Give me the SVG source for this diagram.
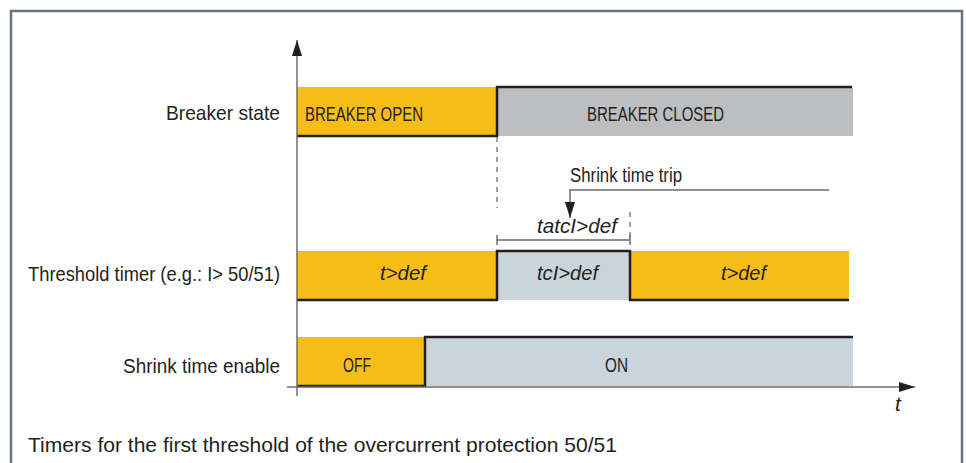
<svg xmlns="http://www.w3.org/2000/svg" width="966" height="463" viewBox="0 0 966 463">
<defs>
<style>
.lbl{font-family:"Liberation Sans",Arial,sans-serif;font-size:21px;fill:#231f20}
.in{font-family:"Liberation Sans",Arial,sans-serif;font-size:19.5px;fill:#231f20}
.it{font-family:"Liberation Sans",Arial,sans-serif;font-size:21px;font-style:italic;fill:#231f20}
.sig{fill:none;stroke:#231f20;stroke-width:2.5}
.ax{fill:none;stroke:#6d6e71;stroke-width:1.5}
.dash{fill:none;stroke:#6d6e71;stroke-width:1.3;stroke-dasharray:5 5}
.yel{fill:#f7bd17}
.gry{fill:#bdbec1}
.blu{fill:#c9d4db}
</style>
<marker id="ahL" viewBox="0 0 16 10" refX="16" refY="5" markerWidth="16" markerHeight="10" markerUnits="userSpaceOnUse" orient="auto">
<path d="M0,0 L16,5 L0,10 z" fill="#231f20"/>
</marker>
</defs>
<rect width="966" height="463" fill="#ffffff"/>
<rect x="11" y="11" width="951" height="500" fill="none" stroke="#5d7682" stroke-width="2.5"/>

<g id="breaker-state">
<text class="lbl" x="280" y="120" text-anchor="end" textLength="114" lengthAdjust="spacingAndGlyphs">Breaker state</text>
<rect class="yel" x="297" y="87" width="200" height="49"/>
<rect class="gry" x="497" y="87" width="356" height="49"/>
<path class="sig" d="M297,136 H497 V87 H852"/>
<text class="in" x="305" y="121" textLength="118" lengthAdjust="spacingAndGlyphs">BREAKER OPEN</text>
<text class="in" x="587" y="121" textLength="137" lengthAdjust="spacingAndGlyphs">BREAKER CLOSED</text>
</g>

<g id="threshold-timer">
<text class="lbl" x="280" y="281" text-anchor="end" textLength="252" lengthAdjust="spacingAndGlyphs">Threshold timer (e.g.: I&gt; 50/51)</text>
<rect class="yel" x="297" y="251" width="200" height="49"/>
<rect class="blu" x="497" y="251" width="133" height="49"/>
<rect class="yel" x="630" y="251" width="219" height="49"/>
<path class="sig" d="M297,300 H497 V251 H630 V300 H849"/>
<text class="it" x="380" y="280" textLength="46" lengthAdjust="spacingAndGlyphs">t&gt;def</text>
<text class="it" x="537" y="280" textLength="61" lengthAdjust="spacingAndGlyphs">tcI&gt;def</text>
<text class="it" x="721" y="280" textLength="45" lengthAdjust="spacingAndGlyphs">t&gt;def</text>
</g>

<g id="shrink-time-enable">
<text class="lbl" x="280" y="373" text-anchor="end" textLength="157" lengthAdjust="spacingAndGlyphs">Shrink time enable</text>
<rect class="yel" x="297" y="337" width="128" height="49"/>
<rect class="blu" x="425" y="337" width="428" height="49"/>
<path class="sig" d="M297,386 H425 V337 H853"/>
<text class="in" x="343" y="372" textLength="28" lengthAdjust="spacingAndGlyphs">OFF</text>
<text class="in" x="605" y="372" textLength="23" lengthAdjust="spacingAndGlyphs">ON</text>
</g>

<g id="shrink-time-trip">
<text class="in" x="570" y="182" font-size="18" textLength="112" lengthAdjust="spacingAndGlyphs">Shrink time trip</text>
</g>

<g id="tatcl-def">
<text class="it" x="537" y="233" textLength="80" lengthAdjust="spacingAndGlyphs">tatcI&gt;def</text>
</g>

<g id="axes">
<path class="ax" d="M297,396 V40" marker-end="url(#ahL)"/>
<path class="ax" d="M287,387 H915" marker-end="url(#ahL)"/>
<text class="it" x="895" y="411" font-size="19">t</text>
</g>

<g id="connectors">
<path class="dash" d="M497,137 V208"/>
<path class="dash" d="M630,212 V240"/>
<path fill="none" stroke="#6d6e71" stroke-width="1.5" d="M497,240 H630 M497,235 V245 M630,235 V245"/>
<path fill="none" stroke="#6d6e71" stroke-width="1.5" d="M829,190 H570 V218" marker-end="url(#ahL)"/>
</g>

<text class="lbl" x="28" y="452" font-size="23" textLength="589" lengthAdjust="spacingAndGlyphs">Timers for the first threshold of the overcurrent protection 50/51</text>
</svg>
